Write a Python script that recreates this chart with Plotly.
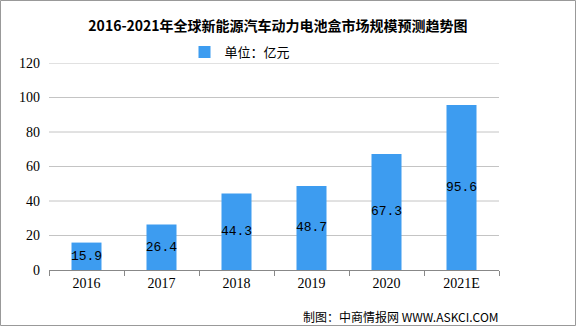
import plotly.graph_objects as go

years = ["2016", "2017", "2018", "2019", "2020", "2021E"]
values = [15.9, 26.4, 44.3, 48.7, 67.3, 95.6]
labels = [f"{v:.1f}" for v in values]
y_range = [0, 120]
y_step = 20
y_ticks = list(range(y_range[0], y_range[1] + 1, y_step))

W, H = 576, 326
ml, mr, mt, mb = 49, 77, 63, 56

fig = go.Figure()
fig.add_trace(go.Bar(
    x=years, y=values, name="单位：亿元",
    marker=dict(color="#3d9cf0", line=dict(width=0)),
    text=labels, textposition="inside", insidetextanchor="middle", textangle=0,
    constraintext="none", cliponaxis=False,
    textfont=dict(family="Liberation Mono, DejaVu Sans Mono, monospace", size=13, color="#000000"),
))

grid_shapes = [dict(type="line", xref="paper", yref="y", x0=0, x1=1, y0=t, y1=t,
                    line=dict(color="#c4c4c4", width=1), layer="below")
               for t in y_ticks if t > y_range[0]]

fig.update_layout(
    template="none",
    width=W, height=H,
    margin=dict(l=ml, r=mr, t=mt, b=mb, autoexpand=False),
    paper_bgcolor="white", plot_bgcolor="rgba(0,0,0,0)",
    bargap=0.6,
    title=dict(text="<b>2016-2021年全球新能源汽车动力电池盒市场规模预测趋势图</b>",
               x=(278 - ml) / (W - ml - mr), xref="paper", xanchor="center",
               y=1 - 26 / H, yanchor="middle",
               font=dict(family="Noto Sans CJK SC, sans-serif", size=14, color="#000000")),
    showlegend=True,
    legend=dict(orientation="h", x=(240 - ml) / (W - ml - mr), xanchor="center", yref="container",
                y=1 - 52 / H, yanchor="middle",
                font=dict(family="Noto Sans CJK SC, sans-serif", size=13, color="#000000"),
                bgcolor="rgba(0,0,0,0)", itemwidth=30),
    xaxis=dict(type="category", showline=True, linecolor="#888888", linewidth=1,
               ticks="outside", tickson="boundaries", ticklen=5, tickcolor="#888888",
               tickfont=dict(family="Liberation Serif, serif", size=14, color="#000000"),
               showgrid=False, zeroline=False),
    yaxis=dict(range=y_range, tickmode="array", tickvals=y_ticks, showline=False,
               showgrid=False, zeroline=False,
               tickfont=dict(family="Liberation Serif, serif", size=14, color="#000000"),
               ticks="", ticklabelstandoff=8),
    shapes=grid_shapes + [dict(type="rect", xref="paper", yref="paper",
                 x0=-(ml - 0.5) / (W - ml - mr), x1=1 + (mr - 0.5) / (W - ml - mr),
                 y0=-(mb - 0.5) / (H - mt - mb), y1=1 + (mt - 0.5) / (H - mt - mb),
                 line=dict(color="#999999", width=1), fillcolor="rgba(0,0,0,0)")],
    annotations=[dict(text="制图：中商情报网 WWW.ASKCI.COM", xref="paper", yref="paper",
                      x=(501 - ml) / (W - ml - mr), y=-(316 - (H - mb)) / (H - mt - mb),
                      xanchor="right", yanchor="middle", showarrow=False,
                      font=dict(family="Noto Sans CJK SC, sans-serif", size=12, color="#000000"))],
)

fig.write_html("out.html")
